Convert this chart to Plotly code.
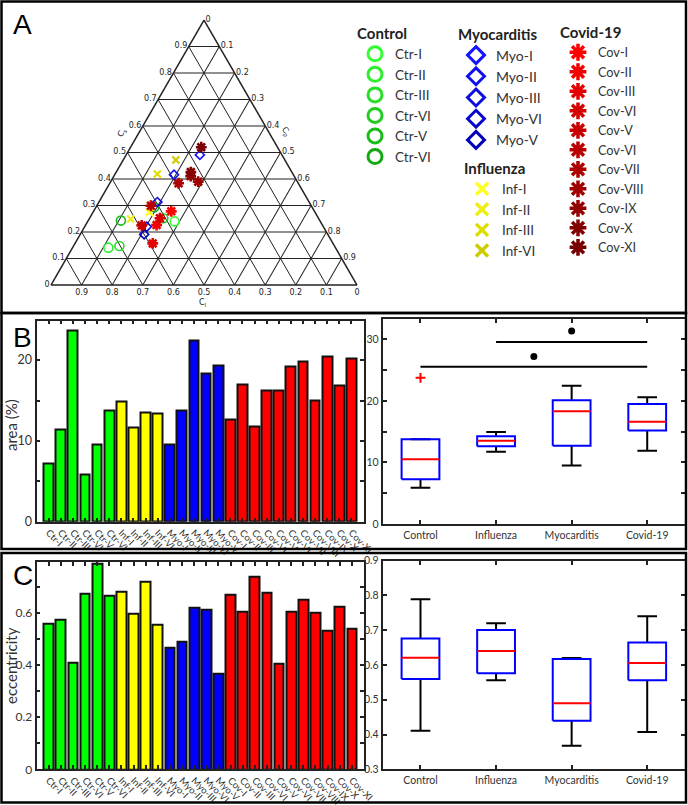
import plotly.graph_objects as go

W, H = 688, 805

# ---------------- data ----------------
# Ternary composition (Cs = top, Cl = bottom-left, Cp = bottom-right)
ctr_names = ["Ctr-I", "Ctr-II", "Ctr-III", "Ctr-VI", "Ctr-V", "Ctr-VI"]
ctr_cs = [0.240, 0.141, 0.147, 0.252, 0.243, 0.293]
ctr_cl = [0.476, 0.742, 0.703, 0.507, 0.650, 0.516]
ctr_cp = [0.284, 0.117, 0.150, 0.241, 0.107, 0.191]

myo_names = ["Myo-I", "Myo-II", "Myo-III", "Myo-VI", "Myo-V"]
myo_cs = [0.491, 0.416, 0.313, 0.220, 0.191]
myo_cl = [0.268, 0.390, 0.496, 0.577, 0.600]
myo_cp = [0.241, 0.194, 0.191, 0.203, 0.209]

inf_names = ["Inf-I", "Inf-II", "Inf-III", "Inf-VI"]
inf_cs = [0.274, 0.249, 0.419, 0.472]
inf_cl = [0.541, 0.615, 0.443, 0.356]
inf_cp = [0.185, 0.136, 0.138, 0.172]

cov_names = ["Cov-I", "Cov-II", "Cov-III", "Cov-VI", "Cov-V", "Cov-VI",
             "Cov-VII", "Cov-VIII", "Cov-IX", "Cov-X", "Cov-XI"]
cov_cs = [0.278, 0.226, 0.157, 0.252, 0.225, 0.299, 0.384, 0.390, 0.411, 0.426, 0.520]
cov_cl = [0.468, 0.542, 0.589, 0.518, 0.591, 0.524, 0.391, 0.324, 0.338, 0.330, 0.249]
cov_cp = [0.254, 0.232, 0.254, 0.230, 0.184, 0.177, 0.225, 0.286, 0.251, 0.244, 0.231]

tern_tickvals = [0, 0.1, 0.2, 0.3, 0.4, 0.5, 0.6, 0.7, 0.8, 0.9]
tern_ticktext = ["0", "0.1", "0.2", "0.3", "0.4", "0.5", "0.6", "0.7", "0.8", "0.9"]

# Bar charts
bar_labels = ["Ctr-I", "Ctr-II", "Ctr-III", "Ctr-VI", "Ctr-V", "Ctr-VI",
              "Inf-I", "Inf-II", "Inf-III", "Inf-VI",
              "Myo-I", "Myo-II", "Myo-III", "Myo-VI", "Myo-V",
              "Cov-I", "Cov-II", "Cov-III", "Cov-VI", "Cov-V", "Cov-VI",
              "Cov-VII", "Cov-VIII", "Cov-IX", "Cov-X", "Cov-XI"]
area_control = [7.2, 11.45, 23.7, 5.85, 9.5, 13.75]
area_influenza = [14.9, 11.7, 13.55, 13.4]
area_myocarditis = [9.5, 13.75, 22.45, 18.3, 19.3]
area_covid = [12.7, 16.95, 11.8, 16.25, 16.25, 19.15, 19.8, 15.05, 20.5, 16.9, 20.15]

ecc_control = [0.559, 0.573, 0.409, 0.676, 0.790, 0.668]
ecc_influenza = [0.681, 0.598, 0.720, 0.554]
ecc_myocarditis = [0.466, 0.490, 0.619, 0.614, 0.367]
ecc_covid = [0.670, 0.605, 0.740, 0.677, 0.407, 0.604, 0.653, 0.603, 0.532, 0.626, 0.541]

# Box-plot statistics
box_groups = ["Control", "Influenza", "Myocarditis", "Covid-19"]
area_lw = [5.9, 11.75, 9.5, 11.9]
area_q1 = [7.25, 12.62, 12.7, 15.2]
area_med = [10.5, 13.52, 18.3, 16.62]
area_q3 = [13.78, 14.27, 20.1, 19.5]
area_uw = [13.78, 14.95, 22.47, 20.6]
area_out_x = ["Control"]
area_out_y = [23.75]
sig_x0 = [1, 2]
sig_x1 = [4, 4]
sig_y = [25.56, 29.57]
sig_dot_x = [2.5, 3]
sig_dot_y = [27.2, 31.36]

ecc_lw = [0.411, 0.556, 0.368, 0.407]
ecc_q1 = [0.560, 0.576, 0.440, 0.556]
ecc_med = [0.621, 0.640, 0.490, 0.606]
ecc_q3 = [0.676, 0.701, 0.617, 0.665]
ecc_uw = [0.789, 0.720, 0.620, 0.740]

# ---------------- styles ----------------
ctr_colors = ["#33ff33", "#2eee2e", "#29dd29", "#22cc22", "#1cbb1c", "#14a814"]
myo_colors = ["#1414ff", "#1010ee", "#0c0cdd", "#0808cc", "#0404bb"]
inf_colors = ["#ffff22", "#eeee11", "#dddd00", "#cccc00"]
cov_colors = ["#ff0000", "#f10000", "#e40000", "#d60000", "#c90000", "#bb0000",
              "#ae0000", "#a00000", "#930000", "#850000", "#780000"]
bar_colors = {"Control": "#00ff00", "Influenza": "#ffff00",
              "Myocarditis": "#0000ff", "Covid-19": "#ff0000"}
FONT = "Lato"
TICKC = "#333333"


def px(xp):
    return xp / W


def py(yp):
    return 1 - yp / H


fig = go.Figure()

# ---------------- ternary ----------------
tern_sets = [
    (ctr_names, ctr_cs, ctr_cl, ctr_cp, ctr_colors, "circle-open", 9, 1.6, 14, 3, "legend"),
    (myo_names, myo_cs, myo_cl, myo_cp, myo_colors, "diamond-open", 7, 1.6, 13, 3, "legend2"),
    (inf_names, inf_cs, inf_cl, inf_cp, inf_colors, "x-thin-open", 7, 2.2, 12, 3.5, "legend3"),
    (cov_names, cov_cs, cov_cl, cov_cp, cov_colors, "asterisk-open", 9, 2.6, 14, 3.5, "legend4"),
]
for names, cs, cl, cp, cols, sym, sz, lw, lsz, llw, leg in tern_sets:
    fig.add_trace(go.Scatterternary(
        a=cs, b=cl, c=cp, mode="markers", showlegend=False, hoverinfo="skip",
        text=names,
        marker=dict(symbol=sym, size=sz, color=cols, line=dict(color=cols, width=lw))))
    for n, col in zip(names, cols):
        fig.add_trace(go.Scatterternary(
            a=[None], b=[None], c=[None], mode="markers", name=n, legend=leg,
            marker=dict(symbol=sym, size=lsz, color=col, line=dict(color=col, width=llw))))

tern_axis = dict(tickmode="array", tickvals=tern_tickvals, ticktext=tern_ticktext,
                 tickfont=dict(family="DejaVu Sans", size=8, color="#222"),
                 showgrid=True, gridcolor="#222", gridwidth=1.3,
                 linecolor="#222", linewidth=1.5, ticks="", min=0,
                 title=dict(text=""))

# ---------------- bar charts ----------------
bar_sets_area = [("Control", area_control), ("Influenza", area_influenza),
                 ("Myocarditis", area_myocarditis), ("Covid-19", area_covid)]
bar_sets_ecc = [("Control", ecc_control), ("Influenza", ecc_influenza),
                ("Myocarditis", ecc_myocarditis), ("Covid-19", ecc_covid)]
bar_pos = list(range(1, len(bar_labels) + 1))


def add_bars(sets, xa, ya):
    k = 0
    for g, vals in sets:
        xs = bar_pos[k:k + len(vals)]
        k += len(vals)
        fig.add_trace(go.Bar(x=xs, y=vals, width=0.8, showlegend=False,
                             marker=dict(color=bar_colors[g], line=dict(color="#111", width=2)),
                             xaxis=xa, yaxis=ya, hoverinfo="skip"))


add_bars(bar_sets_area, "x", "y")
add_bars(bar_sets_ecc, "x3", "y3")


# ---------------- box plots ----------------
def add_box(lw, q1, med, q3, uw, xa, ya):
    wx, wy = [], []
    bx, by = [], []
    mx, my = [], []
    for i in range(len(box_groups)):
        c = i + 1
        wx += [c, c, None, c, c, None, c - 0.13, c + 0.13, None, c - 0.13, c + 0.13, None]
        wy += [lw[i], q1[i], None, q3[i], uw[i], None, lw[i], lw[i], None, uw[i], uw[i], None]
        bx += [c - 0.25, c + 0.25, c + 0.25, c - 0.25, c - 0.25, None]
        by += [q1[i], q1[i], q3[i], q3[i], q1[i], None]
        mx += [c - 0.25, c + 0.25, None]
        my += [med[i], med[i], None]
    fig.add_trace(go.Scatter(x=wx, y=wy, mode="lines", line=dict(color="black", width=2),
                             showlegend=False, xaxis=xa, yaxis=ya, hoverinfo="skip"))
    fig.add_trace(go.Scatter(x=bx, y=by, mode="lines", line=dict(color="#0000ff", width=2),
                             showlegend=False, xaxis=xa, yaxis=ya, hoverinfo="skip"))
    fig.add_trace(go.Scatter(x=mx, y=my, mode="lines", line=dict(color="#ff0000", width=2),
                             showlegend=False, xaxis=xa, yaxis=ya, hoverinfo="skip"))


add_box(area_lw, area_q1, area_med, area_q3, area_uw, "x2", "y2")
add_box(ecc_lw, ecc_q1, ecc_med, ecc_q3, ecc_uw, "x4", "y4")

fig.add_trace(go.Scatter(x=[box_groups.index(g) + 1 for g in area_out_x], y=area_out_y,
                         mode="markers", showlegend=False, hoverinfo="skip",
                         marker=dict(symbol="cross-thin-open", size=7, color="#ff0000",
                                     line=dict(color="#ff0000", width=2)),
                         xaxis="x2", yaxis="y2"))
sx, sy = [], []
for a0, a1, yy in zip(sig_x0, sig_x1, sig_y):
    sx += [a0, a1, None]
    sy += [yy, yy, None]
fig.add_trace(go.Scatter(x=sx, y=sy, mode="lines", line=dict(color="black", width=2),
                         showlegend=False, xaxis="x2", yaxis="y2", hoverinfo="skip"))
fig.add_trace(go.Scatter(x=sig_dot_x, y=sig_dot_y, mode="markers",
                         marker=dict(color="black", size=7), showlegend=False,
                         xaxis="x2", yaxis="y2", hoverinfo="skip"))

# ---------------- axes ----------------
common_ax = dict(showline=True, linecolor="#222", linewidth=1.8, mirror="ticks",
                 ticks="inside", ticklen=4, tickwidth=1.5, tickcolor="#222",
                 showgrid=False, zeroline=False, automargin=False)

bar_x = dict(common_ax, range=[0, 27], tickmode="array", tickvals=bar_pos,
             ticktext=bar_labels, tickangle=45,
             tickfont=dict(family=FONT, size=9.5, color=TICKC))
box_x = dict(common_ax, range=[0.5, 4.5], tickmode="array", tickvals=[1, 2, 3, 4],
             ticktext=box_groups, tickfont=dict(family=FONT, size=10.5, color=TICKC))

fig.update_layout(
    template="none",
    width=W, height=H, margin=dict(l=0, r=0, t=0, b=0, pad=0, autoexpand=False),
    paper_bgcolor="white", plot_bgcolor="white",
    bargap=0,
    ternary=dict(domain=dict(x=[px(51), px(357)], y=[py(285), py(20)]),
                 sum=1, bgcolor="white",
                 aaxis=tern_axis, baxis=tern_axis, caxis=tern_axis),
    xaxis=dict(bar_x, domain=[px(36.5), px(363.5)], anchor="y"),
    yaxis=dict(common_ax, domain=[py(521.7), py(320.5)], anchor="x", range=[0, 24.9],
               tickmode="array", tickvals=[0, 5, 10, 15, 20],
               ticktext=["0", "", "10", "", "20"],
               tickfont=dict(family=FONT, size=12.5, color=TICKC)),
    xaxis2=dict(box_x, domain=[px(382.7), px(685)], anchor="y2"),
    yaxis2=dict(common_ax, domain=[py(524), py(319)], anchor="x2", range=[0, 33.3],
                tickmode="array", tickvals=[0, 5, 10, 15, 20, 25, 30],
                ticktext=["0", "", "10", "", "20", "", "30"],
                tickfont=dict(family=FONT, size=10.5, color=TICKC)),
    xaxis3=dict(bar_x, domain=[px(36.5), px(364)], anchor="y3"),
    yaxis3=dict(common_ax, domain=[py(769.3), py(561.7)], anchor="x3", range=[0, 0.797],
                tickmode="array", tickvals=[0, 0.1, 0.2, 0.3, 0.4, 0.5, 0.6, 0.7],
                ticktext=["0", "", "0.2", "", "0.4", "", "0.6", ""],
                tickfont=dict(family=FONT, size=12, color=TICKC)),
    xaxis4=dict(box_x, domain=[px(382.7), px(685)], anchor="y4"),
    yaxis4=dict(common_ax, domain=[py(769.3), py(560.7)], anchor="x4", range=[0.3, 0.9],
                tickmode="array", tickvals=[0.3, 0.4, 0.5, 0.6, 0.7, 0.8, 0.9],
                ticktext=["0.3", "0.4", "0.5", "0.6", "0.7", "0.8", "0.9"],
                tickfont=dict(family=FONT, size=10.5, color=TICKC)),
)

leg_common = dict(xanchor="left", yanchor="top", bgcolor="rgba(0,0,0,0)",
                  borderwidth=0, itemclick=False, itemdoubleclick=False, tracegroupgap=0)
title_font = dict(family=FONT, size=15, color="#222")
fig.update_layout(
    legend=dict(leg_common, x=px(355), y=py(19),
                font=dict(family=FONT, size=13.5, color=TICKC),
                title=dict(text="<b>Control</b>", font=title_font)),
    legend2=dict(leg_common, x=px(456), y=py(20),
                 font=dict(family=FONT, size=14, color=TICKC),
                 title=dict(text="<b>Myocarditis</b>", font=title_font)),
    legend3=dict(leg_common, x=px(462), y=py(154),
                 font=dict(family=FONT, size=13.5, color=TICKC),
                 title=dict(text="<b>Influenza</b>", font=title_font)),
    legend4=dict(leg_common, x=px(558), y=py(18),
                 font=dict(family=FONT, size=12.7, color=TICKC),
                 title=dict(text="<b>Covid-19</b>", font=title_font)),
)

# ---------------- annotations ----------------
ann_base = dict(xref="paper", yref="paper", showarrow=False,
                xanchor="center", yanchor="middle")
ann = []
for txt, xx, yy in [("A", 23, 25), ("B", 22, 337), ("C", 22.5, 575)]:
    ann.append(dict(ann_base, text=txt, x=px(xx), y=py(yy),
                    font=dict(family="Liberation Sans", size=28, color="black")))
ann.append(dict(ann_base, text="area (%)", x=px(11), y=py(425), textangle=-90,
                font=dict(family=FONT, size=15, color=TICKC)))
ann.append(dict(ann_base, text="eccentricity", x=px(11), y=py(666), textangle=-90,
                font=dict(family=FONT, size=15, color=TICKC)))
ann.append(dict(ann_base, text="C<sub>s</sub>", x=px(122), y=py(133), textangle=-60,
                font=dict(family="DejaVu Sans", size=8, color="#222")))
ann.append(dict(ann_base, text="C<sub>p</sub>", x=px(286), y=py(132), textangle=60,
                font=dict(family="DejaVu Sans", size=8, color="#222")))
ann.append(dict(ann_base, text="C<sub>l</sub>", x=px(203), y=py(303),
                font=dict(family="DejaVu Sans", size=8, color="#222")))
fig.update_layout(annotations=ann)

# ---------------- panel frames ----------------
shapes = []
for y0, y1 in [(1.5, 313), (313, 549), (553, 802.5)]:
    shapes.append(dict(type="rect", xref="paper", yref="paper",
                       x0=px(1.5), x1=px(686), y0=py(y1), y1=py(y0),
                       line=dict(color="black", width=2.5), layer="above"))
fig.update_layout(shapes=shapes)

fig.write_html("out.html", config={"displayModeBar": False},
               post_script="document.body.style.margin='0';document.body.style.overflow='hidden';")
